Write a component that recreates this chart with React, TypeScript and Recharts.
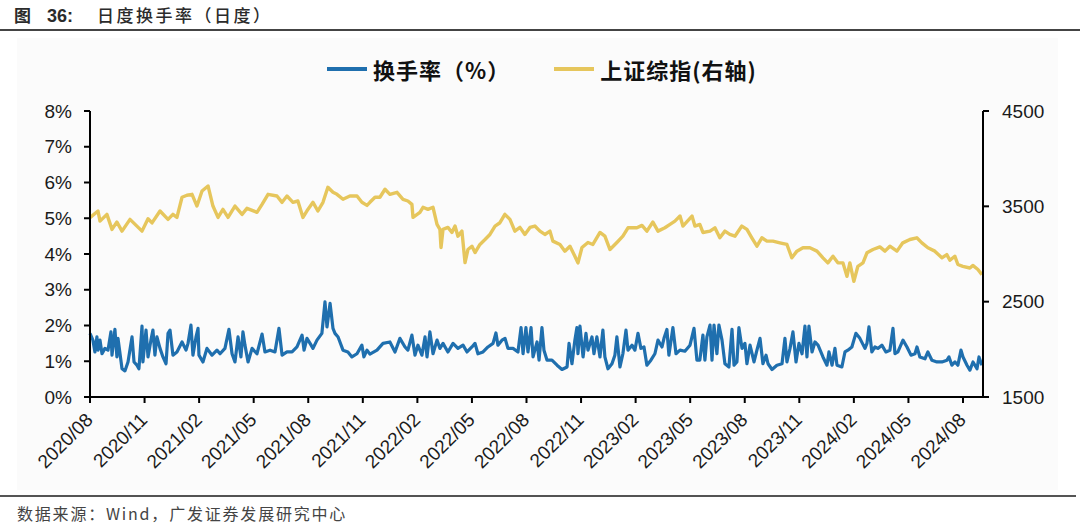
import { Legend, Line, LineChart, XAxis, YAxis } from "recharts"

// x positions are months counted from 2020/08 (0 = start of Aug 2020)
const xTickMonths = [0, 3, 6, 9, 12, 15, 18, 21, 24, 27, 30, 33, 36, 39, 42, 45, 48]
const xTickLabels = [
  "2020/08", "2020/11", "2021/02", "2021/05", "2021/08", "2021/11", "2022/02", "2022/05",
  "2022/08", "2022/11", "2023/02", "2023/05", "2023/08", "2023/11", "2024/02", "2024/05", "2024/08",
]
const leftTicks = [0, 1, 2, 3, 4, 5, 6, 7, 8]
const rightTicks = [1500, 2500, 3500, 4500]

const seriesNames = ["换手率（%）", "上证综指(右轴)"]
const seriesColors = ["#1f6fae", "#e6c65c"]

// daily turnover rate (%)
const turnMonths = [
  0, 0.16, 0.27, 0.38, 0.44, 0.55, 0.66, 0.82, 0.99, 1.15, 1.21, 1.37, 1.48, 1.54, 1.76, 1.92,
  2.09, 2.31, 2.42, 2.58, 2.69, 2.86, 2.91, 3.08, 3.19, 3.35, 3.46, 3.57, 3.68, 3.85, 4.01, 4.18,
  4.29, 4.4, 4.56, 4.78, 5.06, 5.28, 5.39, 5.55, 5.66, 5.83, 5.94, 5.99, 6.21, 6.43, 6.71, 6.98,
  7.15, 7.42, 7.64, 7.81, 7.97, 8.14, 8.3, 8.41, 8.52, 8.69, 8.91, 9.18, 9.46, 9.62, 9.9, 10.17,
  10.39, 10.56, 10.83, 11.11, 11.38, 11.66, 11.77, 11.93, 12.1, 12.26, 12.48, 12.75, 12.92, 13.03,
  13.2, 13.36, 13.47, 13.64, 13.91, 14.18, 14.4, 14.68, 14.95, 15.06, 15.23, 15.39, 15.78, 16.11,
  16.49, 16.77, 17.04, 17.32, 17.48, 17.7, 17.87, 18.03, 18.25, 18.42, 18.53, 18.69, 18.86, 19.08,
  19.24, 19.41, 19.68, 19.96, 20.23, 20.51, 20.73, 21.0, 21.17, 21.33, 21.61, 21.88, 22.16, 22.32,
  22.43, 22.65, 22.82, 22.98, 23.26, 23.53, 23.7, 23.81, 23.97, 24.08, 24.25, 24.36, 24.58, 24.69,
  24.85, 24.96, 25.13, 25.4, 25.68, 25.95, 26.23, 26.34, 26.5, 26.66, 26.77, 26.83, 26.94, 27.11,
  27.27, 27.38, 27.6, 27.71, 27.87, 28.04, 28.2, 28.31, 28.48, 28.7, 28.86, 28.97, 29.14, 29.3,
  29.47, 29.58, 29.8, 29.96, 30.13, 30.29, 30.46, 30.62, 30.84, 31.06, 31.23, 31.45, 31.56, 31.72,
  31.83, 32.05, 32.22, 32.44, 32.71, 32.99, 33.21, 33.37, 33.53, 33.7, 33.81, 33.92, 34.09, 34.2,
  34.31, 34.47, 34.58, 34.75, 34.91, 35.13, 35.3, 35.41, 35.57, 35.68, 35.85, 36.01, 36.12, 36.29,
  36.51, 36.67, 36.84, 37.0, 37.17, 37.28, 37.5, 37.77, 38.05, 38.21, 38.32, 38.49, 38.65, 38.82,
  38.98, 39.15, 39.31, 39.42, 39.53, 39.7, 39.86, 40.03, 40.3, 40.52, 40.63, 40.8, 40.96, 41.07,
  41.34, 41.51, 41.67, 41.89, 42.11, 42.33, 42.61, 42.72, 42.83, 42.99, 43.16, 43.32, 43.54, 43.76,
  43.98, 44.15, 44.26, 44.42, 44.7, 44.92, 45.14, 45.36, 45.47, 45.63, 45.91, 46.07, 46.29, 46.57,
  46.84, 47.12, 47.23, 47.39, 47.56, 47.72, 47.89, 48.0, 48.22, 48.38, 48.55, 48.77, 48.88, 49.04,
]
const turnValues = [
  1.78, 1.59, 1.26, 1.68, 1.31, 1.59, 1.21, 1.36, 1.31, 1.82, 1.17, 1.89, 1.12, 1.64, 0.79, 0.73,
  0.98, 1.68, 0.98, 0.89, 0.79, 1.98, 0.98, 1.87, 1.12, 1.59, 1.87, 1.17, 1.68, 1.36, 1.12, 0.93,
  1.78, 1.87, 1.17, 1.26, 1.54, 1.31, 1.5, 2.01, 1.17, 1.68, 1.92, 1.17, 0.98, 1.36, 1.17, 1.31,
  1.21, 1.36, 1.89, 1.21, 0.98, 1.68, 1.12, 1.82, 1.45, 0.98, 1.36, 1.21, 1.76, 1.26, 1.31, 1.26,
  1.92, 1.17, 1.26, 1.26, 1.4, 1.73, 1.31, 1.64, 1.5, 1.36, 1.59, 1.78, 2.66, 1.96,
  2.62, 1.92, 1.78, 1.68, 1.31, 1.26, 1.12, 1.21, 1.45, 1.12, 1.31, 1.2, 1.31, 1.5,
  1.54, 1.26, 1.64, 1.4, 1.31, 1.73, 1.17, 1.45, 1.17, 1.68, 1.12, 1.82, 1.21, 1.59,
  1.36, 1.5, 1.26, 1.5, 1.36, 1.45, 1.26, 1.4, 1.5, 1.21, 1.26, 1.4, 1.5, 1.79,
  1.45, 1.59, 1.64, 1.36, 1.36, 1.26, 1.94, 1.21, 1.94, 1.26, 1.94, 1.12, 1.54, 1.03,
  1.94, 1.31, 1.03, 1.03, 0.89, 0.77, 0.84, 1.5, 0.93, 1.59, 1.94, 1.21, 1.98, 1.12,
  1.78, 1.31, 1.68, 1.21, 1.68, 1.12, 1.87, 1.12, 0.79, 0.93, 1.17, 1.68, 0.84, 1.21,
  1.87, 1.31, 1.45, 1.31, 1.78, 1.36, 1.4, 0.89, 1.03, 1.21, 1.59, 1.4, 1.64, 1.89,
  1.17, 1.94, 1.21, 1.31, 1.28, 1.45, 1.92, 1.03, 1.03, 1.73, 1.03, 1.68, 2.01, 1.03,
  2.01, 1.21, 2.01, 1.59, 0.93, 0.84, 1.89, 0.89, 0.98, 1.94, 1.36, 1.5, 0.93, 1.45,
  0.98, 1.31, 1.64, 0.93, 1.17, 0.93, 0.77, 0.89, 0.93, 1.64, 0.98, 1.36, 1.82, 0.98,
  1.5, 1.21, 1.98, 1.12, 1.98, 1.26, 1.54, 1.45, 1.12, 0.89, 1.26, 0.89, 1.36, 0.89,
  0.84, 1.26, 1.31, 1.4, 1.78, 1.64, 1.36, 1.5, 1.96, 1.26, 1.4, 1.36, 1.45, 1.26,
  1.31, 1.92, 1.21, 1.26, 1.59, 1.4, 1.17, 1.21, 1.4, 1.12, 1.07, 1.26, 1.03, 0.98,
  0.98, 1.03, 1.12, 0.89, 0.98, 0.89, 1.31, 1.12, 0.89, 0.75, 0.98, 0.79, 1.12, 0.89,
]

// Shanghai composite close, right axis
const sseMonths = [
  0, 0.44, 0.55, 0.93, 1.21, 1.48, 1.76, 2.2, 2.86, 3.19, 3.41, 3.85, 4.29, 4.56, 4.78, 5.06,
  5.33, 5.61, 5.88, 6.16, 6.49, 6.76, 7.04, 7.31, 7.59, 7.97, 8.36, 8.63, 9.18, 9.46, 9.79, 10.28,
  10.56, 10.83, 11.16, 11.43, 11.71, 11.98, 12.26, 12.53, 12.81, 13.08, 13.36, 13.58, 13.91, 14.29,
  14.68, 14.95, 15.23, 15.39, 15.67, 15.94, 16.22, 16.49, 16.88, 17.21, 17.48, 17.7, 17.76, 18.14,
  18.31, 18.58, 18.86, 19.08, 19.24, 19.3, 19.41, 19.68, 19.9, 20.07, 20.23, 20.45, 20.62, 20.78,
  21.0, 21.17, 21.44, 21.72, 21.99, 22.27, 22.54, 22.81, 23.09, 23.36, 23.64, 23.91, 24.19, 24.46,
  24.74, 25.01, 25.29, 25.45, 25.84, 26.11, 26.39, 26.66, 26.83, 27.05, 27.38, 27.65, 28.04, 28.31,
  28.59, 28.97, 29.3, 29.58, 30.07, 30.35, 30.62, 30.95, 31.23, 31.61, 31.89, 32.16, 32.44, 32.6,
  33.1, 33.26, 33.53, 33.7, 34.09, 34.36, 34.63, 34.91, 35.18, 35.46, 35.84, 36.12, 36.39, 36.67,
  36.94, 37.22, 37.55, 37.93, 38.32, 38.59, 38.87, 39.2, 39.58, 39.97, 40.3, 40.57, 40.85, 41.12,
  41.4, 41.62, 41.78, 42.0, 42.22, 42.5, 42.72, 43.05, 43.43, 43.71, 43.98, 44.37, 44.69, 45.08,
  45.46, 45.74, 46.07, 46.45, 46.84, 47.11, 47.28, 47.55, 47.72, 47.99, 48.38, 48.54, 48.82, 49.04,
]
const sseValues = [
  3381, 3451, 3345, 3416, 3258, 3335, 3240, 3363, 3240, 3370, 3326, 3451, 3363, 3416, 3384, 3595,
  3616, 3626, 3503, 3661, 3714, 3503, 3384, 3468, 3384, 3503, 3416, 3479, 3437, 3521, 3626, 3608,
  3542, 3608, 3542, 3556, 3384, 3468, 3542, 3451, 3542, 3700, 3647, 3626, 3574, 3608,
  3608, 3542, 3510, 3542, 3595, 3595, 3679, 3626, 3647, 3574, 3556, 3521, 3384, 3437,
  3490, 3468, 3490, 3310, 3258, 3068, 3258, 3279, 3226, 3293, 3187, 3240, 2910, 3047,
  3082, 3015, 3100, 3152, 3205, 3293, 3328, 3416, 3363, 3240, 3279, 3205, 3279, 3293,
  3240, 3205, 3240, 3135, 3100, 3029, 3082, 2977, 2907, 3068, 3121, 3100, 3226, 3187,
  3047, 3121, 3187, 3275, 3275, 3300, 3240, 3335, 3240, 3275, 3310, 3345, 3398, 3293,
  3398, 3293, 3310, 3226, 3240, 3275, 3170, 3240, 3205, 3187, 3293, 3258, 3170, 3082,
  3170, 3135, 3135, 3117, 3100, 2960, 3030, 3065, 3065, 3030, 2960, 2907, 2977, 2907,
  2907, 2766, 2907, 2714, 2871, 2907, 3012, 3047, 3075, 3030, 3082, 3030, 3117, 3152,
  3170, 3117, 3065, 3030, 2960, 2994, 2935, 2977, 2890, 2871, 2853, 2880, 2837, 2784,
]

type Row = { m: number; turnover?: number; sse?: number }

const rows: Row[] = [
  ...turnMonths.map((m, i) => ({ m, turnover: turnValues[i] })),
  ...sseMonths.map((m, i) => ({ m, sse: sseValues[i] })),
].sort((a, b) => a.m - b.m)

const tickFont = { fontSize: 19, fill: "#1a1a1a", fontFamily: "'Liberation Sans', Arial, sans-serif" }

function MonthTick(props: any) {
  const { x, y, payload } = props
  const label = xTickLabels[xTickMonths.indexOf(payload.value)] ?? ""
  const tx = x + 4
  const ty = y + 16
  return (
    <text
      x={tx}
      y={ty}
      transform={`rotate(-45 ${tx} ${ty})`}
      textAnchor="end"
      {...tickFont}
    >
      {label}
    </text>
  )
}

function LegendBox(props: any) {
  const items = seriesNames.map((name, i) => {
    const hit = (props.payload ?? []).find((p: any) => p.value === name)
    return { name, color: hit?.color ?? seriesColors[i] }
  })
  return (
    <div style={{ display: "flex", alignItems: "center" }}>
      {items.map((item, i) => (
        <div
          key={item.name}
          style={{ display: "flex", alignItems: "center", marginRight: i === 0 ? 44 : 0 }}
        >
          <svg width={42} height={6} style={{ marginRight: 4 }}>
            <line x1={0} y1={3} x2={40} y2={3} stroke={item.color} strokeWidth={4} />
          </svg>
          <span
            style={{
              fontFamily: "'Noto Sans CJK SC', sans-serif",
              fontSize: 22,
              fontWeight: 700,
              letterSpacing: 1,
              color: "#111",
              lineHeight: "26px",
            }}
          >
            {item.name}
          </span>
        </div>
      ))}
    </div>
  )
}

export default function App() {
  return (
    <div
      style={{
        position: "absolute",
        left: 0,
        top: 0,
        width: 1080,
        height: 527,
        background: "#fff",
        overflow: "hidden",
      }}
    >
      <div
        style={{
          position: "absolute",
          left: 17,
          top: 38,
          width: 1041,
          height: 452,
          background: "#fbfbfb",
        }}
      />
      <div
        style={{
          position: "absolute",
          left: 14,
          top: 4,
          fontSize: 17,
          lineHeight: "22px",
          color: "#2b2b2b",
          whiteSpace: "nowrap",
        }}
      >
        <span style={{ fontFamily: "'Noto Sans CJK SC', sans-serif", fontWeight: 700 }}>图</span>
        <span
          style={{
            fontFamily: "'Liberation Sans', Arial, sans-serif",
            fontWeight: 700,
            fontSize: 18,
            marginLeft: 16,
          }}
        >
          36:
        </span>
        <span
          style={{
            fontFamily: "'Noto Sans CJK SC', sans-serif",
            fontWeight: 500,
            letterSpacing: 2.5,
            marginLeft: 24,
          }}
        >
          日度换手率（日度）
        </span>
      </div>
      <div
        style={{
          position: "absolute",
          left: 0,
          top: 29,
          width: 1080,
          height: 2,
          background: "#444",
        }}
      />
      <div style={{ position: "absolute", left: 0, top: 0 }}>
        <LineChart
          width={1080}
          height={527}
          data={rows}
          margin={{ top: 111, right: 37, bottom: 70, left: 30 }}
        >
          <XAxis
            dataKey="m"
            type="number"
            domain={[0, 49.1]}
            ticks={xTickMonths}
            interval={0}
            height={60}
            axisLine={{ stroke: "#000", strokeWidth: 2 }}
            tickLine={{ stroke: "#000", strokeWidth: 2 }}
            tickSize={6}
            tick={<MonthTick />}
          />
          <YAxis
            yAxisId="left"
            domain={[0, 8]}
            ticks={leftTicks}
            interval={0}
            width={60}
            axisLine={{ stroke: "#000", strokeWidth: 2 }}
            tickLine={{ stroke: "#000", strokeWidth: 2 }}
            tickSize={6}
            tickMargin={12}
            tick={tickFont}
            tickFormatter={(v) => `${v}%`}
          />
          <YAxis
            yAxisId="right"
            orientation="right"
            domain={[1500, 4500]}
            ticks={rightTicks}
            interval={0}
            width={60}
            axisLine={{ stroke: "#000", strokeWidth: 2 }}
            tickLine={{ stroke: "#000", strokeWidth: 2 }}
            tickSize={6}
            tickMargin={13}
            tick={tickFont}
          />
          <Legend
            layout="horizontal"
            verticalAlign="middle"
            align="center"
            content={<LegendBox />}
            wrapperStyle={{ top: 56, left: 327, width: 520 }}
          />
          <Line
            yAxisId="left"
            name={seriesNames[0]}
            dataKey="turnover"
            type="linear"
            stroke={seriesColors[0]}
            strokeWidth={3.2}
            strokeLinejoin="round"
            dot={false}
            connectNulls
            isAnimationActive={false}
          />
          <Line
            yAxisId="right"
            name={seriesNames[1]}
            dataKey="sse"
            type="linear"
            stroke={seriesColors[1]}
            strokeWidth={3.4}
            strokeLinejoin="round"
            dot={false}
            connectNulls
            isAnimationActive={false}
          />
        </LineChart>
      </div>
      <div
        style={{
          position: "absolute",
          left: 0,
          top: 495,
          width: 1076,
          height: 2,
          background: "#555",
        }}
      />
      <div
        style={{
          position: "absolute",
          left: 17,
          top: 504,
          fontFamily: "'Noto Sans CJK SC', sans-serif",
          fontSize: 16,
          lineHeight: "18px",
          letterSpacing: 1.8,
          color: "#444",
          whiteSpace: "nowrap",
        }}
      >
        数据来源：Wind，广发证券发展研究中心
      </div>
    </div>
  )
}
